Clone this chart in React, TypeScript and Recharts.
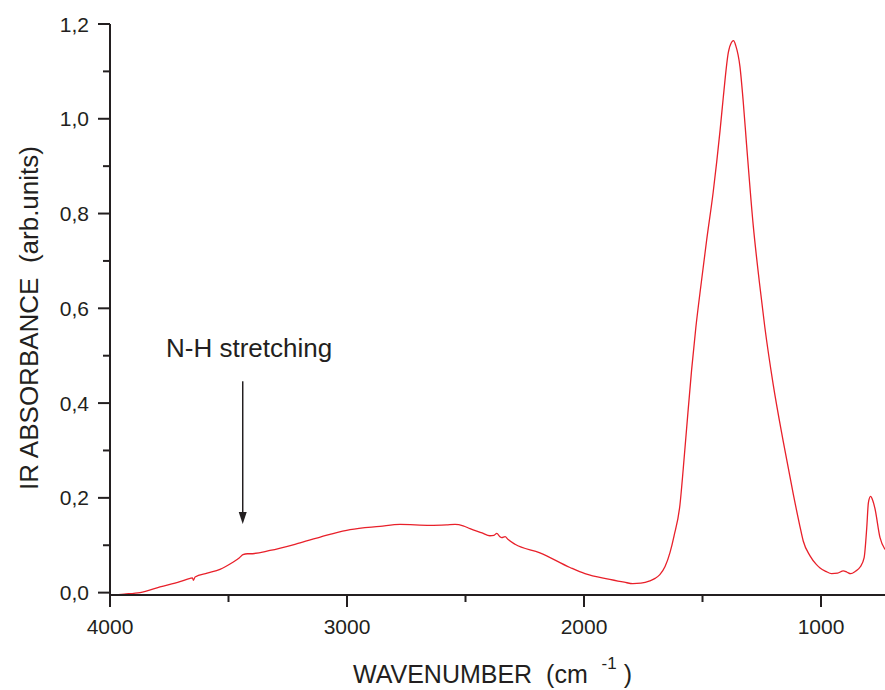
import React from "react";
import {
  LineChart,
  Line,
  XAxis,
  YAxis,
  ReferenceLine,
  ReferenceDot,
} from "recharts";

const wavenumbers = [
  4000, 3940, 3873, 3789, 3705, 3662, 3652, 3648, 3641, 3590, 3536, 3485, 3455, 3439, 3420, 3409,
  3325, 3198, 3072, 2987, 2861, 2776, 2650, 2580, 2544, 2510, 2481, 2430, 2397, 2380, 2368, 2355,
  2347, 2333, 2320, 2291, 2186, 2059, 1996, 1891, 1830, 1794, 1760, 1722, 1700, 1680, 1658, 1637,
  1620, 1595, 1581, 1567, 1546, 1528, 1505, 1483, 1455, 1426, 1412, 1391, 1378, 1369, 1360, 1342,
  1328, 1314, 1286, 1260, 1237, 1202, 1159, 1117, 1089, 1075, 1047, 1019, 1004, 980, 955, 930,
  906, 890, 875, 855, 835, 818, 807, 800, 791, 782, 773, 751, 730,
];

const absorbance = [
  -0.005, -0.003, 0.0, 0.012, 0.023, 0.03, 0.031, 0.026, 0.033, 0.041, 0.049, 0.063, 0.073, 0.08, 0.082, 0.082,
  0.089, 0.105, 0.123, 0.133, 0.14, 0.144, 0.142, 0.143, 0.144, 0.141, 0.135, 0.126, 0.12, 0.121, 0.125, 0.118,
  0.116, 0.118, 0.112, 0.102, 0.084, 0.053, 0.04, 0.028, 0.022, 0.019, 0.02, 0.025, 0.03, 0.038, 0.055, 0.085,
  0.12, 0.186, 0.263, 0.347, 0.47, 0.56, 0.655, 0.742, 0.845, 0.975, 1.047, 1.14, 1.161, 1.165, 1.155, 1.11,
  1.035, 0.945, 0.775, 0.655, 0.56, 0.44, 0.318, 0.208, 0.14, 0.109, 0.078, 0.059, 0.052, 0.045, 0.04, 0.041,
  0.046, 0.043, 0.04, 0.045, 0.054, 0.074, 0.137, 0.19, 0.203, 0.195, 0.179, 0.116, 0.091,
];

const xTicks = [4000, 3500, 3000, 2500, 2000, 1500, 1000];
const xMajor = [4000, 3000, 2000, 1000];
const yTicks = [0, 0.1, 0.2, 0.3, 0.4, 0.5, 0.6, 0.7, 0.8, 0.9, 1.0, 1.1, 1.2];
const yMajorLabels: Record<string, string> = {
  "0": "0,0",
  "0.2": "0,2",
  "0.4": "0,4",
  "0.6": "0,6",
  "0.8": "0,8",
  "1": "1,0",
  "1.2": "1,2",
};

const annotationText = "N-H stretching";
const arrowX = 3440;
const arrowTop = 0.446;
const arrowTip = 0.145;

const data = wavenumbers.map((w, i) => ({ w, a: absorbance[i] }));

const INK = "#231f20";
const FONT = "'Liberation Sans', Arial, Helvetica, sans-serif";

const XTick = (props: any) => {
  const { x, y, payload } = props;
  const major = xMajor.includes(payload.value);
  return (
    <g>
      <line x1={x} x2={x} y1={y} y2={y + (major ? 12 : 7)} stroke={INK} strokeWidth={2} />
      {major && (
        <text x={x} y={y + 39} textAnchor="middle" fontSize={21} fill={INK} fontFamily={FONT}>
          {payload.value}
        </text>
      )}
    </g>
  );
};

const YTick = (props: any) => {
  const { x, y, payload } = props;
  const key = String(Math.round(payload.value * 10) / 10);
  const label = yMajorLabels[key];
  const major = label !== undefined;
  return (
    <g>
      <line x1={x} x2={x - (major ? 12 : 7)} y1={y} y2={y} stroke={INK} strokeWidth={2} />
      {major && (
        <text x={x - 21} y={y} dy="0.36em" textAnchor="end" fontSize={21} fill={INK} fontFamily={FONT}>
          {label}
        </text>
      )}
    </g>
  );
};

const XLabel = () => (
  <text
    x={353}
    y={683}
    textAnchor="start"
    fontSize={25}
    fill={INK}
    fontFamily={FONT}
    xmlSpace="preserve"
    style={{ whiteSpace: "pre" }}
  >
    {"WAVENUMBER  (cm  "}
    <tspan fontSize={17} dy={-14}>{"-1"}</tspan>
    <tspan dy={14}>{" )"}</tspan>
  </text>
);

const YLabel = () => (
  <text
    x={29}
    y={318}
    transform="rotate(-90 29 318)"
    textAnchor="middle"
    dy="0.36em"
    fontSize={26}
    fill={INK}
    fontFamily={FONT}
    xmlSpace="preserve"
    style={{ whiteSpace: "pre" }}
  >
    {"IR ABSORBANCE  (arb.units)"}
  </text>
);

const ArrowHead = (props: any) => {
  const { cx, cy } = props;
  return <path d={`M${cx - 4},${cy - 12} L${cx + 4},${cy - 12} L${cx},${cy} Z`} fill={INK} />;
};

const AnnotationLabel = (props: any) => {
  const { cx, cy } = props;
  return (
    <text x={cx} y={cy} textAnchor="middle" fontSize={26} fill={INK} fontFamily={FONT}>
      {annotationText}
    </text>
  );
};

export default function App() {
  return (
    <div style={{ position: "absolute", left: 0, top: 0, width: 885, height: 690, background: "#fff" }}>
      <LineChart
        width={885}
        height={690}
        data={data}
        margin={{ top: 24, right: 0, bottom: 0, left: 0 }}
      >
        <XAxis
          dataKey="w"
          type="number"
          domain={[730, 4000]}
          reversed
          allowDataOverflow
          ticks={xTicks}
          tick={<XTick />}
          tickLine={false}
          tickSize={0}
          tickMargin={0}
          height={95}
          axisLine={{ stroke: INK, strokeWidth: 2 }}
          interval={0}
          label={<XLabel />}
        />
        <XAxis
          xAxisId="top"
          dataKey="w"
          type="number"
          domain={[730, 4000]}
          reversed
          allowDataOverflow
          orientation="top"
          height={0}
          tick={false}
          tickLine={false}
          axisLine={{ stroke: INK, strokeWidth: 2 }}
        />
        <YAxis
          type="number"
          domain={[0, 1.2]}
          ticks={yTicks}
          tick={<YTick />}
          tickLine={false}
          tickSize={0}
          tickMargin={0}
          width={110}
          interval={0}
          axisLine={{ stroke: INK, strokeWidth: 2 }}
          label={<YLabel />}
        />
        <ReferenceLine
          segment={[
            { x: arrowX, y: arrowTop },
            { x: arrowX, y: arrowTip + 0.02 },
          ]}
          stroke={INK}
          strokeWidth={1.5}
        />
        <ReferenceDot x={arrowX} y={arrowTip} r={4} shape={<ArrowHead />} />
        <ReferenceDot x={3413} y={0.498} r={4} shape={<AnnotationLabel />} />
        <Line
          type="monotone"
          dataKey="a"
          stroke="#e8202a"
          strokeWidth={1.3}
          dot={false}
          isAnimationActive={false}
        />
      </LineChart>
    </div>
  );
}
